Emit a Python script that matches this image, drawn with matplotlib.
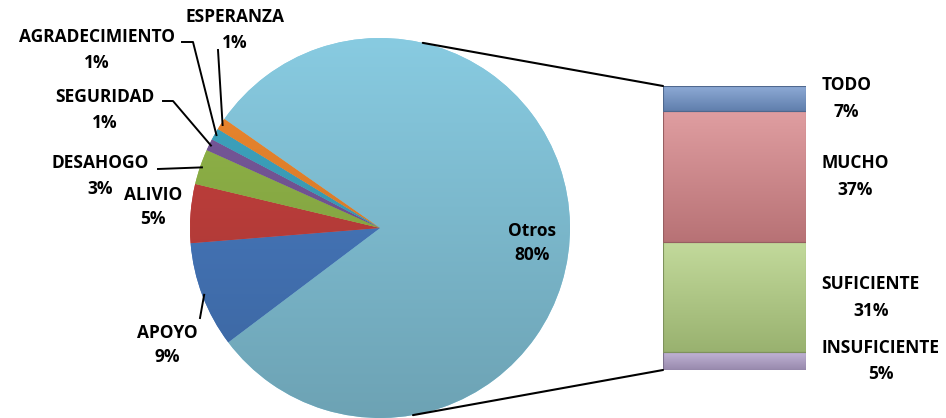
import numpy as np
import matplotlib
matplotlib.use("Agg")
import matplotlib.pyplot as plt
from matplotlib.patches import ConnectionPatch
from matplotlib.colors import to_rgb
from matplotlib.transforms import blended_transform_factory

plt.rcParams['font.family'] = ['Open Sans', 'DejaVu Sans']

# pie: "Otros" is broken out into the bar on the right
pie_labels = ["Otros", "APOYO", "ALIVIO", "DESAHOGO", "SEGURIDAD",
              "AGRADECIMIENTO", "ESPERANZA"]
pie_values = [80, 9, 5, 3, 1, 1, 1]
pie_colors = ["#88cbe1", "#4a7ec6", "#c9423f", "#94b94a", "#7a5a9e",
              "#3fa8c4", "#f0892f"]

bar_labels = ["INSUFICIENTE", "SUFICIENTE", "MUCHO", "TODO"]
bar_values = [5, 31, 37, 7]
bar_colors = ["#b2a1cb", "#b4d183", "#d8868a", "#7195cb"]

W, H = 946, 418
R = 190  # pie radius in pixels
cx, cy = 380, 228  # pie centre (pixels from top-left)

fig = plt.figure(figsize=(W / 100, H / 100), dpi=100)


def gradient(ax, patch, color, extent, light=0.22, dark=0.80):
    # vertical shading from a lighter top to a darker bottom, clipped to patch
    c = np.array(to_rgb(color))
    top = c + (1 - c) * light
    bot = c * dark
    t = np.linspace(0, 1, 256)[:, None, None]
    img = top * (1 - t) + bot * t
    im = ax.imshow(img, extent=extent, aspect='auto', origin='upper',
                   zorder=patch.get_zorder() + 0.1, interpolation='bilinear')
    im.set_clip_path(patch)


# ---- pie ----
half = 200
ax1 = fig.add_axes([(cx - half) / W, (H - cy - half) / H, 2 * half / W, 2 * half / H])
wedges, _ = ax1.pie(pie_values, colors=pie_colors, radius=R, startangle=145,
                    counterclock=False,
                    wedgeprops=dict(edgecolor='none'))
for w, c in zip(wedges, pie_colors):
    gradient(ax1, w, c, (-R, R, -R, R), light=0.0, dark=0.8)
ax1.set_xlim(-half, half)
ax1.set_ylim(-half, half)
ax1.axis('off')

lab_font = dict(fontsize=12.5, fontweight='bold', color='black',
                ha='center', va='center')
gap = 12.5  # half the distance between the two label lines, pixels

# label block centres, in pixels relative to the pie centre
pie_label_pos = {
    "Otros": (152, -15),
    "APOYO": (-213, -117),
    "ALIVIO": (-227, 21),
    "DESAHOGO": (-280, 52),
    "SEGURIDAD": (-275, 118),
    "AGRADECIMIENTO": (-283, 178),
    "ESPERANZA": (-145, 198),
}
# where each leader line starts near its label
leader_start = {
    "APOYO": [(-180, -90)],
    "DESAHOGO": [(-222, 59)],
    "SEGURIDAD": [(-217, 127), (-207, 127)],
    "AGRADECIMIENTO": [(-198, 186), (-187, 186)],
    "ESPERANZA": [(-162, 178)],
}

total = sum(pie_values)
for w, name, val in zip(wedges, pie_labels, pie_values):
    x, y = pie_label_pos[name]
    ax1.text(x, y + gap, name, **lab_font)
    ax1.text(x, y - gap, f"{val / total:.0%}", **lab_font)
    if name in leader_start:
        mid = np.deg2rad((w.theta1 + w.theta2) / 2)
        pts = leader_start[name] + [(R * 0.99 * np.cos(mid), R * 0.99 * np.sin(mid))]
        xs, ys = zip(*pts)
        ax1.plot(xs, ys, color='black', lw=1.4, clip_on=False)

# ---- bar of the "Otros" slice ----
bx0, bx1, by0, by1 = 663, 806, 86, 370
ax2 = fig.add_axes([bx0 / W, (H - by1) / H, (bx1 - bx0) / W, (by1 - by0) / H])
bottoms = np.concatenate([[0], np.cumsum(bar_values)[:-1]])
bars = ax2.bar(0, bar_values, bottom=bottoms, width=1, color=bar_colors,
               edgecolor='none')
for b, c, v, b0 in zip(bars, bar_colors, bar_values, bottoms):
    gradient(ax2, b, c, (-0.5, 0.5, b0, b0 + v), light=0.2, dark=0.85)
    ax2.add_patch(plt.Rectangle((-0.5, b0), 1, v, fill=False,
                                edgecolor=np.array(to_rgb(c)) * 0.7, lw=0.8,
                                zorder=3))
ax2.set_xlim(-0.5, 0.5)
ax2.set_ylim(0, sum(bar_values))
ax2.axis('off')

tr = blended_transform_factory(ax2.transAxes, ax2.transData)
for name, v, b0 in zip(bar_labels, bar_values, bottoms):
    ax2.text(1.11, b0 + v / 2, f"{name}\n{v}%", transform=tr,
             fontsize=12.5, fontweight='bold', ha='left', va='center',
             multialignment='center', linespacing=1.62)

# connector lines from the pie edge to the bar corners
for ang, yb in [(77, sum(bar_values)), (-80, 0)]:
    a = np.deg2rad(ang)
    con = ConnectionPatch(xyA=(R * np.cos(a), R * np.sin(a)), coordsA=ax1.transData,
                          xyB=(-0.5, yb), coordsB=ax2.transData,
                          color='black', lw=1.5)
    fig.add_artist(con)

fig.savefig("out.png", dpi=100)
